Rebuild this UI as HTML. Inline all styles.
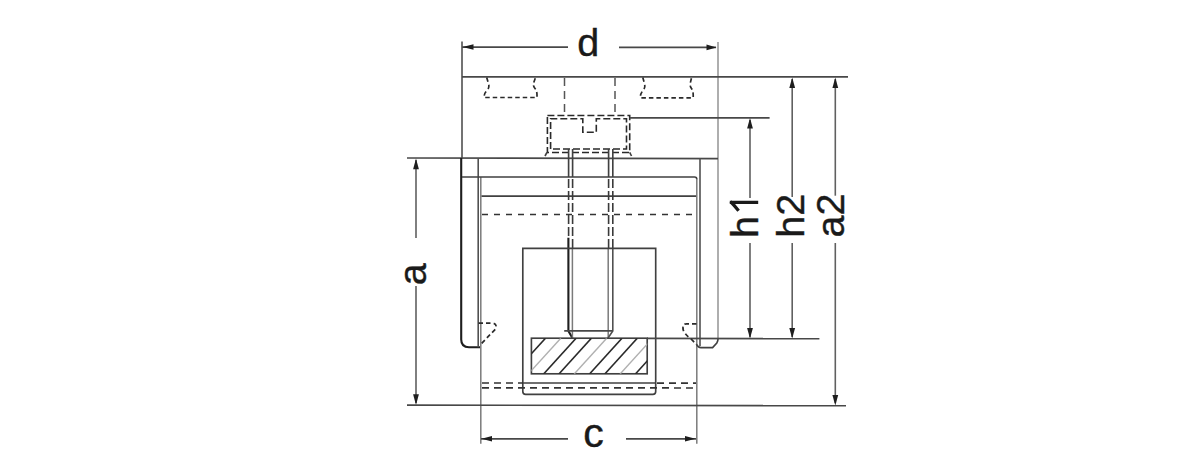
<!DOCTYPE html>
<html><head><meta charset="utf-8">
<style>
html,body{margin:0;padding:0;background:#fff;}
svg{display:block;}
.m{stroke:#404040;stroke-width:1.65;fill:none;}
.mk{stroke:#1e1e1e;stroke-width:2.1;fill:none;}
.g{stroke:#505050;stroke-width:1.6;fill:none;}
.gl{stroke:#7a7a7a;stroke-width:1.5;fill:none;}
.t{stroke:#484848;stroke-width:1.7;fill:none;}
.tv{stroke:#606060;stroke-width:1.6;fill:none;}
.lt{stroke:#9a9a9a;stroke-width:1.6;fill:none;}
.ds{stroke:#333;stroke-width:1.7;fill:none;stroke-dasharray:6 6;}
.db{stroke:#333;stroke-width:1.7;fill:none;stroke-dasharray:7 5;}
.dss{stroke:#2a2a2a;stroke-width:1.7;fill:none;stroke-dasharray:4.5 3;}
.dsh{stroke:#2a2a2a;stroke-width:1.6;fill:none;stroke-dasharray:7 3;}
.dsk{stroke:#3a3a3a;stroke-width:1.6;fill:none;stroke-dasharray:9 3;}
.dsg{stroke:#555;stroke-width:1.5;fill:none;stroke-dasharray:8 5;}
.ar{fill:#1e1e1e;stroke:none;}
text{font-family:"Liberation Sans",sans-serif;font-size:39.5px;fill:#1a1a1a;stroke:#1a1a1a;stroke-width:0.4;}
</style></head>
<body>
<svg width="1200" height="466" viewBox="0 0 1200 466">
<rect width="1200" height="466" fill="#fff"/>

<!-- d dimension -->
<line class="t" x1="462" y1="47.1" x2="568" y2="47.1"/>
<line class="t" x1="619" y1="47.3" x2="716" y2="47.3"/>
<polygon class="ar" points="462.5,47 473.5,44.2 473.5,49.8"/>
<polygon class="ar" points="716.5,47.4 706.5,44.6 706.5,50.2"/>
<text x="588.2" y="56" text-anchor="middle">d</text>

<!-- extension verticals -->
<line class="g" x1="462" y1="41.5" x2="462" y2="158"/>
<line class="lt" x1="718" y1="42" x2="718" y2="339"/>

<!-- top line -->
<line class="t" x1="462" y1="76.9" x2="848" y2="76.9"/>

<!-- T slots -->
<path class="dss" d="M486.7,77.5 L488.6,84 Q489.6,87.5 487,90.5 Q484.2,93.5 484.2,96 V97.5 H537 V95 Q537,91 535,88.5 Q532.8,86 533.6,83 L535.5,77.5"/>
<path class="dss" d="M642.8,77.5 L644.6,84 Q645.6,87.5 643,90.5 Q640.5,93.5 640.5,96 V97.8 H693.2 V95 Q693.2,91 691.5,88.5 Q689.6,86 690.3,83 L691.6,77.5"/>

<!-- dashed verticals -->
<line class="dsg" x1="564.5" y1="78" x2="564.5" y2="115"/>
<line class="dsg" x1="615" y1="78" x2="615" y2="115"/>

<!-- screw head -->
<rect class="dsh" x="547.4" y="115.5" width="82.3" height="37"/>
<polyline class="dsh" points="550.6,149 550.6,118.7 582.8,118.7 582.8,132.2 596.3,132.2 596.3,118.7 626.5,118.7 626.5,149 550.6,149"/>
<line class="m" x1="547" y1="152.3" x2="545" y2="156"/>
<line class="m" x1="629.7" y1="152.3" x2="631.5" y2="156"/>
<line class="t" x1="629.7" y1="117.8" x2="769.6" y2="117.8"/>

<!-- body top -->
<line class="t" x1="407" y1="158" x2="718" y2="158.6"/>

<!-- a dimension -->
<line class="tv" x1="416" y1="160" x2="416" y2="238"/>
<line class="tv" x1="416" y1="286" x2="416" y2="403"/>
<polygon class="ar" points="416,158.5 413.1,169.3 418.9,169.3"/>
<polygon class="ar" points="416,405 413.1,394.2 418.9,394.2"/>
<text transform="translate(425.9,274.2) rotate(-90)" text-anchor="middle">a</text>

<!-- left wall -->
<path class="mk" d="M461.2,158 V339.5 Q461.2,347.2 469,347.2 H480"/>
<line class="g" x1="478.2" y1="158.2" x2="478.2" y2="347.2"/>
<line class="gl" x1="480.8" y1="177" x2="480.8" y2="443.7"/>

<!-- horizontals -->
<path class="m" d="M462,177 H694.5 Q696.8,177 696.8,179.3"/>
<line class="m" x1="481.5" y1="196.1" x2="696.8" y2="196.1"/>
<line class="ds" x1="482" y1="214.5" x2="696.8" y2="214.5"/>

<!-- right wall -->
<line class="g" x1="700" y1="158.6" x2="700" y2="346"/>
<line class="gl" x1="696.8" y1="179" x2="696.8" y2="443.7"/>
<path class="m" d="M718,338.9 Q718,341 716.8,343 L712.6,347.6 H701 Q698,347.6 696.5,344.4"/>

<!-- screw shank -->
<line class="m" x1="568.6" y1="149" x2="568.6" y2="177"/>
<line class="m" x1="572.6" y1="149" x2="572.6" y2="177"/>
<line class="m" x1="608.6" y1="149" x2="608.6" y2="177"/>
<line class="m" x1="612.8" y1="149" x2="612.8" y2="177"/>
<line class="dsk" x1="568.6" y1="179" x2="568.6" y2="237.7"/>
<line class="dsk" x1="572.6" y1="179" x2="572.6" y2="248"/>
<line class="dsk" x1="608.6" y1="179" x2="608.6" y2="248"/>
<line class="dsk" x1="612.8" y1="179" x2="612.8" y2="248"/>
<path class="mk" d="M568.4,237.7 V331 L572.4,338"/>
<line class="gl" x1="572.4" y1="248" x2="572.4" y2="338"/>
<line class="gl" x1="608.2" y1="248" x2="608.2" y2="338"/>
<path class="g" d="M612.8,248 V331 L608,338"/>
<line class="t" x1="564.2" y1="330.8" x2="612.8" y2="330.8"/>

<!-- block -->
<path class="m" d="M522.8,248.3 H655.7 V391.6 Q655.7,394.4 652.9,394.4 H525.6 Q522.8,394.4 522.8,391.6 Z"/>

<!-- hatched rect -->
<rect class="m" x="531.4" y="338.2" width="115.8" height="35.6"/>
<clipPath id="hc"><rect x="531.4" y="338.2" width="115.8" height="35.6"/></clipPath>
<g clip-path="url(#hc)">
<line x1="513.0" y1="374" x2="545.5" y2="338.2" stroke="#2a2a2a" stroke-width="1.6"/>
<line x1="528.3" y1="374" x2="560.8" y2="338.2" stroke="#b0b0b0" stroke-width="1.4"/>
<line x1="543.6" y1="374" x2="576.1" y2="338.2" stroke="#2a2a2a" stroke-width="1.6"/>
<line x1="558.9" y1="374" x2="591.4" y2="338.2" stroke="#2a2a2a" stroke-width="1.6"/>
<line x1="574.2" y1="374" x2="606.7" y2="338.2" stroke="#b0b0b0" stroke-width="1.4"/>
<line x1="589.5" y1="374" x2="622.0" y2="338.2" stroke="#2a2a2a" stroke-width="1.6"/>
<line x1="604.8" y1="374" x2="637.3" y2="338.2" stroke="#2a2a2a" stroke-width="1.6"/>
<line x1="620.1" y1="374" x2="652.6" y2="338.2" stroke="#b0b0b0" stroke-width="1.4"/>
<line x1="635.4" y1="374" x2="667.9" y2="338.2" stroke="#2a2a2a" stroke-width="1.6"/>
</g>

<!-- h reference line -->
<line class="t" x1="647" y1="338.4" x2="819.4" y2="338.6"/>

<!-- bottom dashed lines -->
<line class="db" x1="482" y1="383" x2="523" y2="383"/>
<line class="m" x1="523" y1="383" x2="655.7" y2="383"/>
<line class="db" x1="657" y1="383.2" x2="696" y2="383.2"/>
<line class="db" x1="482" y1="387.8" x2="696" y2="388"/>

<!-- bottom line -->
<line class="t" x1="407" y1="405.1" x2="846" y2="405.7"/>

<!-- c dimension -->
<line class="t" x1="481" y1="438.8" x2="568" y2="438.8"/>
<line class="t" x1="626" y1="438.8" x2="696" y2="438.8"/>
<polygon class="ar" points="481.5,438.8 492,436 492,441.6"/>
<polygon class="ar" points="695.5,438.8 685,436 685,441.6"/>
<text x="593.5" y="447.2" text-anchor="middle" style="font-size:41px">c</text>

<!-- h1 -->
<line class="tv" x1="750" y1="120" x2="750" y2="197.9"/>
<line class="tv" x1="750" y1="243" x2="750" y2="337"/>
<polygon class="ar" points="750,118 747.1,128.5 752.9,128.5"/>
<polygon class="ar" points="750,338.4 747.1,328 752.9,328"/>
<text transform="translate(758,227.1) rotate(-90)" text-anchor="middle">h</text>
<path d="M729.8,202.3 H758.2 M730.5,201.5 Q734,205 738.6,210.8" stroke="#1a1a1a" stroke-width="3.2" fill="none"/>

<!-- h2 -->
<line class="tv" x1="792.2" y1="79" x2="792.2" y2="197"/>
<line class="tv" x1="792.2" y1="243" x2="792.2" y2="337"/>
<polygon class="ar" points="792.2,77.5 789.3,88 795.1,88"/>
<polygon class="ar" points="792.2,338.4 789.3,328 795.1,328"/>
<text transform="translate(804,215.7) rotate(-90)" text-anchor="middle">h2</text>

<!-- a2 -->
<line class="tv" x1="835.3" y1="79" x2="835.3" y2="195.7"/>
<line class="tv" x1="835.3" y1="243" x2="835.3" y2="403"/>
<polygon class="ar" points="835.3,77.5 832.4,88 838.2,88"/>
<polygon class="ar" points="835.3,405.5 832.4,395 838.2,395"/>
<text transform="translate(844.4,215.5) rotate(-90)" text-anchor="middle">a2</text>

<!-- dashed hooks -->
<path class="dss" d="M478.5,323.2 H492 Q496.6,323.2 496.3,328.2 L480.5,344.6"/>
<path class="dss" d="M696.5,323.8 H686.5 Q682.5,323.8 683,329 Q684,334 691.3,339.2 L696.5,344.4"/>

</svg>
</body></html>
